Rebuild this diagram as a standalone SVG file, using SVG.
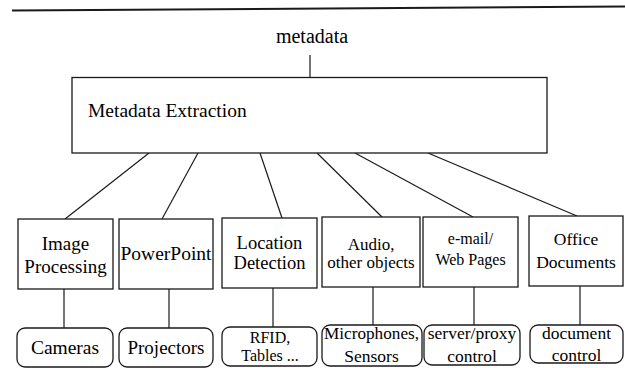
<svg xmlns="http://www.w3.org/2000/svg" width="625" height="368" viewBox="0 0 625 368" font-family="'Liberation Serif', 'Times New Roman', serif">
<style>
.box{fill:#fff;stroke:#1a1a1a;stroke-width:1.3}
.rbox{fill:#fff;stroke:#1a1a1a;stroke-width:1.3}
.c line{stroke:#1a1a1a;stroke-width:1.2}
text{font-family:'Liberation Serif', 'Times New Roman', serif;fill:#000;text-anchor:middle}
</style>
<rect width="625" height="368" fill="#fff"/>
<line x1="12" y1="10.5" x2="625" y2="6.5" stroke="#1a1a1a" stroke-width="2"/>
<g class="c" id="connectors">
<line x1="310" y1="55" x2="310" y2="78"/>
<line x1="149" y1="153" x2="65" y2="219"/>
<line x1="198" y1="153" x2="162" y2="219"/>
<line x1="260" y1="153" x2="282" y2="218"/>
<line x1="317" y1="153" x2="382" y2="217"/>
<line x1="355" y1="153" x2="473" y2="217"/>
<line x1="428" y1="153" x2="577" y2="216"/>
<line x1="64" y1="289" x2="64" y2="328"/>
<line x1="169" y1="289" x2="169" y2="328"/>
<line x1="273" y1="288" x2="273" y2="327"/>
<line x1="373" y1="287" x2="373" y2="325"/>
<line x1="474" y1="287" x2="474" y2="325"/>
<line x1="580" y1="286" x2="580" y2="325"/>
</g>
<g id="metadata"><text x="312" y="43" font-size="20">metadata</text></g>
<g id="extraction">
<rect class="box" x="72" y="77.5" width="475" height="75.5"/>
<text x="88" y="117" font-size="19.5" style="text-anchor:start">Metadata Extraction</text>
</g>
<g id="image-processing">
<rect class="box" x="18" y="219" width="95" height="70"/>
<text x="65.5" y="250" font-size="19">Image</text>
<text x="65.5" y="273" font-size="19">Processing</text>
</g>
<g id="powerpoint">
<rect class="box" x="119" y="219" width="94" height="70"/>
<text x="166" y="260" font-size="19.5">PowerPoint</text>
</g>
<g id="location">
<rect class="box" x="222" y="218" width="95" height="70"/>
<text x="269.5" y="249" font-size="18.5">Location</text>
<text x="269.5" y="269" font-size="18.5">Detection</text>
</g>
<g id="audio">
<rect class="box" x="322" y="217" width="98" height="70"/>
<text x="371" y="250" font-size="17">Audio,</text>
<text x="371" y="268" font-size="17">other objects</text>
</g>
<g id="email">
<rect class="box" x="423" y="217" width="95" height="70"/>
<text x="470.5" y="244" font-size="16">e-mail/</text>
<text x="470.5" y="265" font-size="16">Web Pages</text>
</g>
<g id="office">
<rect class="box" x="529" y="216" width="94" height="70"/>
<text x="576" y="245" font-size="17.5">Office</text>
<text x="576" y="268" font-size="17.5">Documents</text>
</g>
<g id="cameras">
<rect class="rbox" x="17" y="328" width="96" height="39" rx="8"/>
<text x="65" y="354" font-size="19.5">Cameras</text>
</g>
<g id="projectors">
<rect class="rbox" x="119" y="328" width="94" height="39" rx="8"/>
<text x="166" y="354" font-size="19">Projectors</text>
</g>
<g id="rfid">
<rect class="rbox" x="222" y="327" width="95" height="39" rx="8"/>
<text x="270" y="343" font-size="16">RFID,</text>
<text x="270" y="361" font-size="16">Tables ...</text>
</g>
<g id="microphones">
<rect class="rbox" x="322" y="325" width="100" height="41" rx="8"/>
<text x="371.5" y="339" font-size="17.2">Microphones,</text>
<text x="371.5" y="362" font-size="17.5">Sensors</text>
</g>
<g id="server">
<rect class="rbox" x="424" y="325" width="96" height="40" rx="8"/>
<text x="472" y="339" font-size="17.5">server/proxy</text>
<text x="472" y="362" font-size="17.5">control</text>
</g>
<g id="document">
<rect class="rbox" x="530" y="325" width="93" height="38" rx="8"/>
<text x="576.5" y="339" font-size="17.5">document</text>
<text x="576.5" y="361" font-size="17.5">control</text>
</g>
</svg>
